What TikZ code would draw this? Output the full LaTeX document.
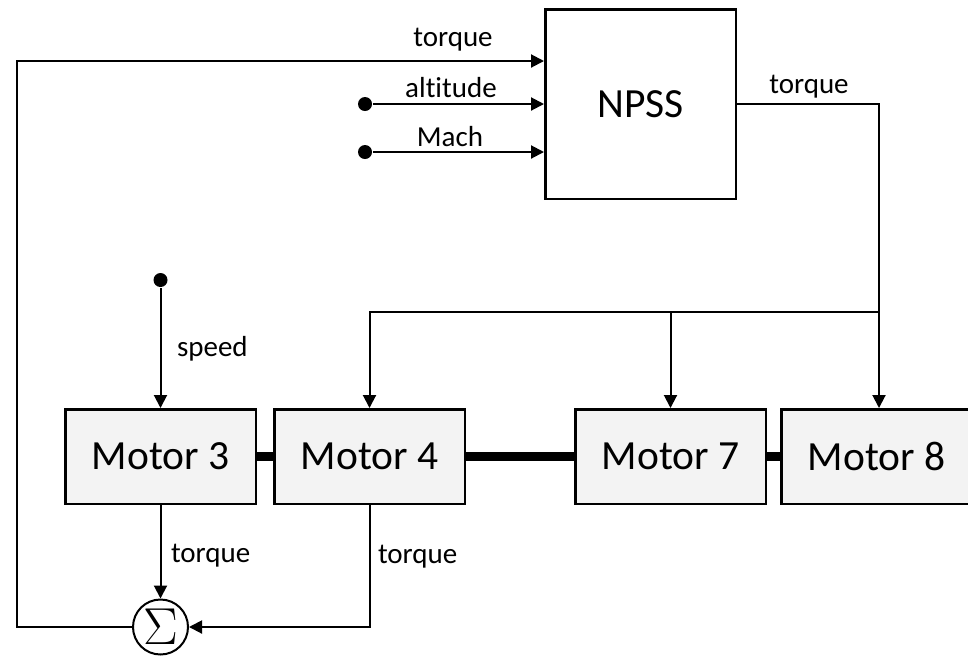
\documentclass[tikz,border=0pt]{standalone}
\usepackage{fontspec}
\setmainfont{Carlito}[Ligatures=NoCommon]
\newfontfamily\lmfont{Latin Modern Roman}
\usetikzlibrary{arrows.meta}
\definecolor{boxgray}{HTML}{F3F3F3}
\begin{document}
\begin{tikzpicture}[x=1pt,y=-1pt,
  line width=2pt,
  arr/.style={-{Triangle[length=13pt,width=13pt]}},
  motor/.style={draw, line width=2.5pt, fill=boxgray, minimum width=190.5pt, minimum height=94.5pt, inner sep=0pt, font=\fontsize{41.5}{45}\selectfont},
  npssbox/.style={draw, line width=2.5pt, fill=white, minimum width=190.5pt, minimum height=189.5pt, inner sep=0pt, font=\fontsize{41.5}{45}\selectfont},
  lbl/.style={inner sep=0pt, font=\fontsize{29}{32}\selectfont},
  dotn/.style={circle, fill=black, inner sep=0pt, minimum size=14pt},
  sumn/.style={circle, draw, line width=2pt, fill=white, minimum size=55pt, inner sep=0pt, font=\lmfont\fontsize{52}{52}\selectfont},
  bar/.style={line width=9pt}
]
\useasboundingbox (0,0) rectangle (968,657);

% blocks
\node[npssbox] (npss) at (640.5,104) {NPSS};
\node[motor] (m3) at (160.5,456.5) {Motor 3};
\node[motor] (m4) at (369.5,456.5) {Motor 4};
\node[motor] (m7) at (670.5,456.5) {Motor 7};
\node[motor] (m8) at (876.5,456.5) {Motor 8};
\node[sumn] (sig) at (160.5,627) {Σ};

% shafts
\draw[bar] (m3.east) -- (m4.west);
\draw[bar] (m4.east) -- (m7.west);
\draw[bar] (m7.east) -- (m8.west);

% inputs to NPSS
\node[dotn] (dalt) at (365,104) {};
\node[dotn] (dmach) at (365,152) {};
\draw[arr] (dalt) -- (dalt -| npss.west);
\draw[arr] (dmach) -- (dmach -| npss.west);
\node[lbl, anchor=base] (lalt) at (451,97) {altitude};
\node[lbl, anchor=base] (lmach) at (450,146) {Mach};

% feedback torque loop
\coordinate (fbl) at (17,627);
\coordinate (fbt) at (17,61);
\draw[arr] (sig.west) -- (fbl) -- (fbt) -- (fbt -| npss.west);
\node[lbl, anchor=base] (ltq1) at (453,46) {torque};

% NPSS output distribution
\coordinate (br) at (879,312);
\node[lbl, anchor=base] (ltq2) at (809,93) {torque};
\draw[arr] (npss.east) -| (br) -- (br |- m8.north);
\draw[arr] (br) -| (m4.north);
\draw[arr] (m7.north |- br) -- (m7.north);

% speed input
\node[dotn] (dsp) at (160.5,280) {};
\draw[arr] (dsp) -- (m3.north);
\node[lbl, anchor=base west] (lsp) at (176,356) {speed};

% motor torque outputs
\draw[arr] (m3.south) -- (sig.north);
\node[lbl, anchor=base west] (ltq3) at (170,562) {torque};
\draw[arr] (m4.south) |- (sig.east);
\node[lbl, anchor=base west] (ltq4) at (377,563) {torque};
\end{tikzpicture}
\end{document}
